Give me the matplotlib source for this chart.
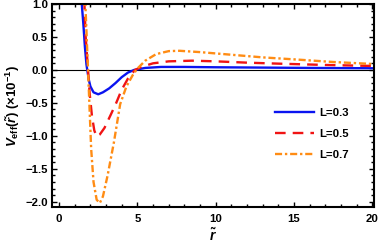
import matplotlib
matplotlib.use("Agg")
import matplotlib.pyplot as plt
from matplotlib.ticker import MultipleLocator
import numpy as np

plt.rcParams['font.family'] = ['Liberation Sans', 'DejaVu Sans']
plt.rcParams['mathtext.fontset'] = 'custom'
plt.rcParams['mathtext.rm'] = 'Liberation Sans:bold'
plt.rcParams['mathtext.it'] = 'Liberation Sans:bold:italic'
plt.rcParams['mathtext.bf'] = 'Liberation Sans:bold'

r_03 = [1.40, 1.45, 1.55, 1.65, 1.75, 1.80, 1.90, 2.0, 2.2, 2.5, 2.8, 3.2, 3.6, 4.0, 4.4, 4.8, 5.5, 6.5, 8, 10, 13, 16, 20]
v_03 = [1.3, 1.0, 0.7, 0.35, 0.08, 0.0, -0.15, -0.25, -0.34, -0.37, -0.34, -0.28, -0.2, -0.11, -0.04, 0.0, 0.03, 0.045, 0.045, 0.04, 0.035, 0.03, 0.025]

r_05 = [1.58, 1.62, 1.70, 1.85, 1.95, 2.1, 2.25, 2.4, 2.6, 2.9, 3.3, 3.65, 4.0, 4.4, 4.85, 5.3, 6.0, 7.0, 8.5, 10, 12, 14, 17, 20]
v_05 = [1.3, 1.0, 0.5, 0.0, -0.35, -0.7, -0.92, -1.01, -0.98, -0.88, -0.68, -0.5, -0.3, -0.13, 0.0, 0.05, 0.1, 0.13, 0.14, 0.13, 0.11, 0.095, 0.075, 0.06]

r_07 = [1.65, 1.68, 1.78, 1.85, 1.95, 2.05, 2.2, 2.4, 2.6, 2.8, 3.1, 3.5, 3.9, 4.3, 4.7, 5.0, 5.5, 6.2, 7.0, 7.7, 9, 11, 13, 15, 17.5, 20]
v_07 = [1.2, 1.0, 0.4, 0.0, -0.6, -1.2, -1.7, -1.97, -2.02, -1.92, -1.6, -1.1, -0.52, -0.25, -0.08, 0.02, 0.14, 0.24, 0.285, 0.29, 0.27, 0.23, 0.19, 0.16, 0.12, 0.09]

labels = ['L=0.3', 'L=0.5', 'L=0.7']
xticks = [0, 5, 10, 15, 20]
yticks = [-2.0, -1.5, -1.0, -0.5, 0.0, 0.5, 1.0]

fig = plt.figure(figsize=(3.82, 2.48), dpi=100)
ax = fig.add_axes([52/382, 1-207/248, (374-52)/382, (207-4)/248])

ax.axhline(0, color='black', lw=0.8, zorder=1)
ax.plot(r_03, v_03, color='#0a14f0', lw=1.7, ls='-', label=labels[0])
ax.plot(r_05, v_05, color='#f01414', lw=1.7, ls=(0, (4.5, 3)), label=labels[1])
ax.plot(r_07, v_07, color='#ff8c14', lw=1.7, ls=(0, (3, 1.2, 1, 1.2)), label=labels[2])

ax.set_xlim(-0.45, 20.1)
ax.set_ylim(-2.08, 1.0)
ax.set_xticks(xticks)
ax.set_yticks(yticks)
ax.set_xticklabels([str(t) for t in xticks])
ax.set_yticklabels([f'{t:.1f}'.replace('-', '\u2212') for t in yticks])
ax.xaxis.set_minor_locator(MultipleLocator(1))
ax.yaxis.set_minor_locator(MultipleLocator(0.1))
ax.tick_params(which='both', direction='in', top=True, right=True, width=1.0, labelsize=8.2, color='black')
ax.tick_params(which='major', length=3.5)
ax.tick_params(which='minor', length=2)
ax.tick_params(axis='x', which='major', pad=5)
ax.tick_params(axis='y', which='major', pad=3)
for lbl in ax.get_xticklabels() + ax.get_yticklabels():
    lbl.set_fontweight('bold')
for s in ax.spines.values():
    s.set_linewidth(1.5)

ax.set_xlabel(r'$\tilde{r}$', fontsize=10, labelpad=2)
ax.set_ylabel(r'$V_{\rm eff}(\tilde{r})\ (\times 10^{-1})$', fontsize=9.5, labelpad=2)

leg = ax.legend(loc='center right', bbox_to_anchor=(0.955, 0.36), frameon=False,
                prop={'weight': 'bold', 'size': 8.2}, handlelength=3.4, handletextpad=0.5,
                labelspacing=0.95)

fig.savefig('out.png', dpi=100)
